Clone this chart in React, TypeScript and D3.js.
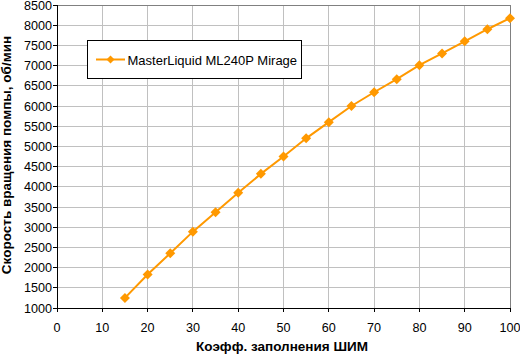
import React from "react";
import * as d3 from "d3";

const xValues = [15, 20, 25, 30, 35, 40, 45, 50, 55, 60, 65, 70, 75, 80, 85, 90, 95, 100];
const yValues = [1250, 1830, 2355, 2890, 3370, 3850, 4320, 4750, 5200, 5600, 6000, 6340, 6665, 7010, 7300, 7600, 7900, 8175];
const xTicks = [0, 10, 20, 30, 40, 50, 60, 70, 80, 90, 100];
const yTicks = d3.range(1000, 8501, 500);
const seriesName = "MasterLiquid ML240P Mirage";
const xTitle = "Коэфф. заполнения ШИМ";
const yTitle = "Скорость вращения помпы, об/мин";

const W = 520, H = 355;
const L = 57, R = 510, T = 5, B = 308;
const COLOR = "#ff9900";
const FONT = "Arial, 'Liberation Sans', sans-serif";

export default function App() {
  const x = d3.scaleLinear().domain([0, 100]).range([L, R]);
  const y = d3.scaleLinear().domain([1000, 8500]).range([B, T]);
  const line = d3.line<number>().x((_, i) => x(xValues[i])).y((d) => y(d));
  const diamond = (cx: number, cy: number, r: number) =>
    `M${cx},${cy - r}L${cx + r},${cy}L${cx},${cy + r}L${cx - r},${cy}Z`;

  return (
    <svg width={W} height={H} style={{ position: "absolute", left: 0, top: 0, background: "#fff" }}>
      <rect x={0} y={0} width={W} height={H} fill="#fff" />
      {xTicks.slice(1).map((t) => (
        <line key={"gx" + t} x1={x(t)} x2={x(t)} y1={T} y2={B} stroke="#c0c0c0" strokeWidth={1} shapeRendering="crispEdges" />
      ))}
      {yTicks.slice(1).map((t) => (
        <line key={"gy" + t} x1={L} x2={R} y1={y(t)} y2={y(t)} stroke="#c0c0c0" strokeWidth={1} shapeRendering="crispEdges" />
      ))}
      <line x1={L} x2={R} y1={T} y2={T} stroke="#808080" shapeRendering="crispEdges" />
      <line x1={R} x2={R} y1={T} y2={B} stroke="#808080" shapeRendering="crispEdges" />
      <line x1={L} x2={L} y1={T} y2={B + 4} stroke="#000" shapeRendering="crispEdges" />
      <line x1={L - 4} x2={R} y1={B} y2={B} stroke="#000" shapeRendering="crispEdges" />
      {yTicks.map((t) => (
        <g key={"ty" + t}>
          <line x1={L - 4} x2={L} y1={y(t)} y2={y(t)} stroke="#000" shapeRendering="crispEdges" />
          <text x={L - 5} y={y(t) + 4.5} textAnchor="end" fontFamily={FONT} fontSize={12.6} fill="#000">{t}</text>
        </g>
      ))}
      {xTicks.map((t) => (
        <g key={"tx" + t}>
          <line x1={x(t)} x2={x(t)} y1={B} y2={B + 4} stroke="#000" shapeRendering="crispEdges" />
          <text x={x(t)} y={B + 23.5} textAnchor="middle" fontFamily={FONT} fontSize={12.6} fill="#000">{t}</text>
        </g>
      ))}
      <text x={282} y={351} textAnchor="middle" fontFamily={FONT} fontSize={13.5} fontWeight="bold" fill="#000">{xTitle}</text>
      <text transform={`translate(11,${155}) rotate(-90)`} textAnchor="middle" fontFamily={FONT} fontSize={13.5} fontWeight="bold" fill="#000">{yTitle}</text>
      <path d={line(yValues) || ""} fill="none" stroke={COLOR} strokeWidth={2} />
      {yValues.map((v, i) => (
        <path key={"m" + i} d={diamond(x(xValues[i]), y(v), 5)} fill={COLOR} />
      ))}
      <rect x={87.5} y={40.5} width={214} height={38} fill="#fff" stroke="#000" strokeWidth={1} />
      <line x1={96} x2={125} y1={59.5} y2={59.5} stroke={COLOR} strokeWidth={2} />
      <path d={diamond(110.5, 59.5, 4)} fill={COLOR} />
      <text x={127.5} y={64.5} fontFamily={FONT} fontSize={13} fill="#000">{seriesName}</text>
    </svg>
  );
}
